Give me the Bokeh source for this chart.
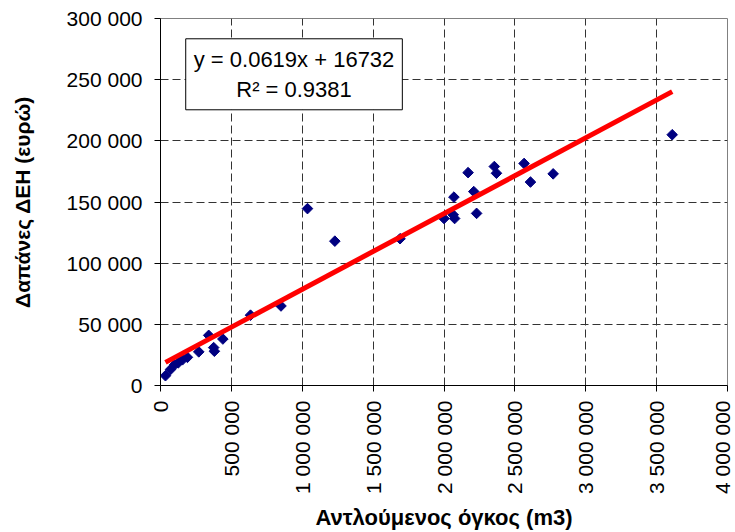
import math
from bokeh.plotting import figure
from bokeh.models import Range1d, CustomJSTickFormatter, FixedTicker, Label
from bokeh.embed import file_html
from bokeh.resources import INLINE

# Data (pumped volume m3, electricity cost EUR)
volume = [35000, 70000, 100000, 125000, 155000, 190000, 270000, 340000, 375000, 380000,
          440000, 635000, 850000, 1037000, 1230000, 1690000, 2000000, 2070000, 2065000,
          2075000, 2170000, 2210000, 2230000, 2355000, 2370000, 2565000, 2610000, 2770000,
          3610000]
cost = [8000, 13000, 17000, 18500, 21000, 23000, 27500, 41000, 31000, 28000,
        38000, 57500, 65000, 144600, 118000, 120000, 136500, 154000, 139500,
        136500, 174000, 158500, 140700, 179000, 173500, 181500, 166300, 173000,
        205000]

slope = 0.0619
intercept = 16732
r2 = 0.9381

x_ticks = [0, 500000, 1000000, 1500000, 2000000, 2500000, 3000000, 3500000, 4000000]
y_ticks = [0, 50000, 100000, 150000, 200000, 250000, 300000]

x_title = "Αντλούμενος όγκος (m3)"
y_title = "Δαπάνες ΔΕΗ (ευρώ)"

FONT = "Liberation Sans"

p = figure(width=733, height=532, output_backend="svg", toolbar_location=None,
           x_range=Range1d(0, 4000000), y_range=Range1d(0, 300000),
           min_border_left=160, min_border_right=6, min_border_top=18, min_border_bottom=140)

p.outline_line_color = "#808080"
p.outline_line_width = 1
p.background_fill_color = "white"
p.border_fill_color = "white"

fmt = CustomJSTickFormatter(code="return tick.toFixed(0).replace(/\\B(?=(\\d{3})+(?!\\d))/g, ' ');")

for ax, ticks in ((p.xaxis[0], x_ticks), (p.yaxis[0], y_ticks)):
    ax.ticker = FixedTicker(ticks=ticks)
    ax.formatter = fmt
    ax.major_label_text_font = FONT
    ax.major_label_text_font_size = "21px"
    ax.major_label_text_color = "black"
    ax.axis_line_color = "black"
    ax.major_tick_line_color = "black"
    ax.major_tick_out = 6
    ax.major_tick_in = 0
    ax.minor_tick_line_color = None
    ax.axis_label_text_font = FONT
    ax.axis_label_text_font_style = "bold"
    ax.axis_label_text_color = "black"

p.xaxis.major_label_orientation = math.pi / 2
p.xaxis.major_label_standoff = 9
p.xaxis.axis_label = x_title
p.xaxis.axis_label_text_font_size = "22px"
p.xaxis.axis_label_standoff = 8
p.yaxis.major_label_standoff = 12
p.yaxis.axis_label = y_title
p.yaxis.axis_label_text_font_size = "21px"
p.yaxis.axis_label_standoff = 30

for g in (p.xgrid[0], p.ygrid[0]):
    g.grid_line_color = "#333333"
    g.grid_line_dash = "8 4"
    g.grid_line_width = 1

p.scatter(volume, cost, marker="square", size=7.5, angle=math.pi / 4,
          fill_color="#000080", line_color="#000080")

xs = [min(volume), max(volume)]
ys = [slope * v + intercept for v in xs]
p.line(xs, ys, line_color="#FF0000", line_width=5)

eq = Label(x=942000, y=254400, text=f"y = {slope}x + {intercept}\nR² = {r2}",
           text_align="center", text_baseline="middle",
           text_font=FONT, text_font_size="22px", text_color="black",
           background_fill_color="white", border_line_color="black", border_line_width=1,
           padding=8)
p.add_layout(eq)

open("out.html", "w").write(file_html(p, INLINE))
